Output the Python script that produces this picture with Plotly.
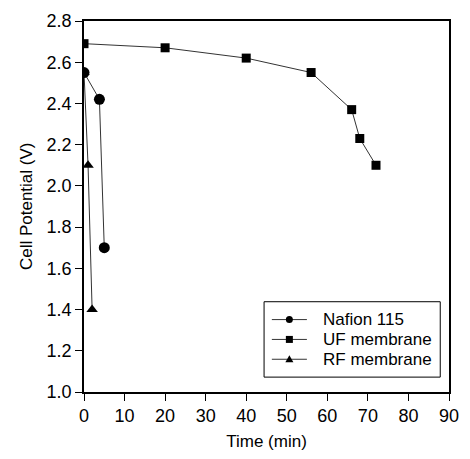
import plotly.graph_objects as go

nafion_t = [0, 3.8, 5]
nafion_v = [2.55, 2.42, 1.70]
uf_t = [0, 20, 40, 56, 66, 68, 72]
uf_v = [2.69, 2.67, 2.62, 2.55, 2.37, 2.23, 2.10]
rf_t = [0, 1, 2]
rf_v = [2.55, 2.10, 1.40]

x_ticks = list(range(0, 91, 10))
y_ticks = [1.0, 1.2, 1.4, 1.6, 1.8, 2.0, 2.2, 2.4, 2.6, 2.8]
legend_names = ["Nafion 115", "UF membrane", "RF membrane"]

W, H = 470, 459
L, R, T, B = 84, 11, 21, 64
PW, PH = W - L - R, H - T - B


def px(xp):
    return (xp - L) / PW


def py(yp):
    return (H - B - yp) / PH


line = dict(color="#333333", width=1)
fig = go.Figure()
fig.add_trace(go.Scatter(x=rf_t, y=rf_v, mode="lines+markers", name=legend_names[2],
                         line=line, marker=dict(symbol="triangle-up", size=10, color="black")))
fig.add_trace(go.Scatter(x=uf_t, y=uf_v, mode="lines+markers", name=legend_names[1],
                         line=line, marker=dict(symbol="square", size=9, color="black")))
fig.add_trace(go.Scatter(x=nafion_t, y=nafion_v, mode="lines+markers", name=legend_names[0],
                         line=line, marker=dict(symbol="circle", size=11, color="black")))

font = "Liberation Sans, Arial, sans-serif"
shapes = [dict(type="rect", xref="paper", yref="paper", x0=px(269), x1=px(450),
               y0=py(380), y1=py(304), line=dict(color="black", width=1),
               fillcolor="white")]
annotations = []
entry_y = [322, 342, 362]
for i, name in enumerate(legend_names):
    yy = py(entry_y[i])
    shapes.append(dict(type="line", xref="paper", yref="paper", x0=px(277), x1=px(313),
                       y0=yy, y1=yy, line=dict(color="#333333", width=1)))
    common = dict(xref="paper", yref="paper", xsizemode="pixel", ysizemode="pixel",
                  xanchor=px(295), yanchor=yy, fillcolor="black",
                  line=dict(color="black", width=0))
    if i == 0:
        shapes.append(dict(type="circle", x0=-3.5, x1=3.5, y0=-3.5, y1=3.5, **common))
    elif i == 1:
        shapes.append(dict(type="rect", x0=-3.5, x1=3.5, y0=-3.5, y1=3.5, **common))
    else:
        shapes.append(dict(type="path", path="M-4,-3 L4,-3 L0,4 Z", **common))
    annotations.append(dict(x=px(327), y=yy, xref="paper", yref="paper", text=name,
                            showarrow=False, xanchor="left", yanchor="middle",
                            font=dict(size=17, family=font, color="black")))

annotations.append(dict(x=px(25), y=0.5, xref="paper", yref="paper",
                        text="Cell Potential (V)", textangle=-90, showarrow=False,
                        xanchor="center", yanchor="middle",
                        font=dict(size=17, family=font, color="black")))

fig.update_layout(
    width=W, height=H,
    margin=dict(l=L, r=R, t=T, b=B),
    paper_bgcolor="white", plot_bgcolor="white",
    font=dict(family=font, size=17, color="black"),
    showlegend=False,
    shapes=shapes,
    annotations=annotations,
    xaxis=dict(range=[0, 90], tickvals=x_ticks, ticktext=[str(v) for v in x_ticks],
               showgrid=False, zeroline=False, showline=True, linecolor="black",
               linewidth=1.5, mirror=True, ticks="outside", ticklen=7,
               tickcolor="black", tickfont=dict(size=18),
               title=dict(text="Time (min)", font=dict(size=17), standoff=10)),
    yaxis=dict(range=[1.0, 2.8], tickvals=y_ticks, ticktext=[f"{v:.1f}" for v in y_ticks],
               showgrid=False, zeroline=False, showline=True, linecolor="black",
               linewidth=1.5, mirror=True, ticks="outside", ticklen=7,
               tickcolor="black", tickfont=dict(size=18)),
)
fig.write_html("out.html")
